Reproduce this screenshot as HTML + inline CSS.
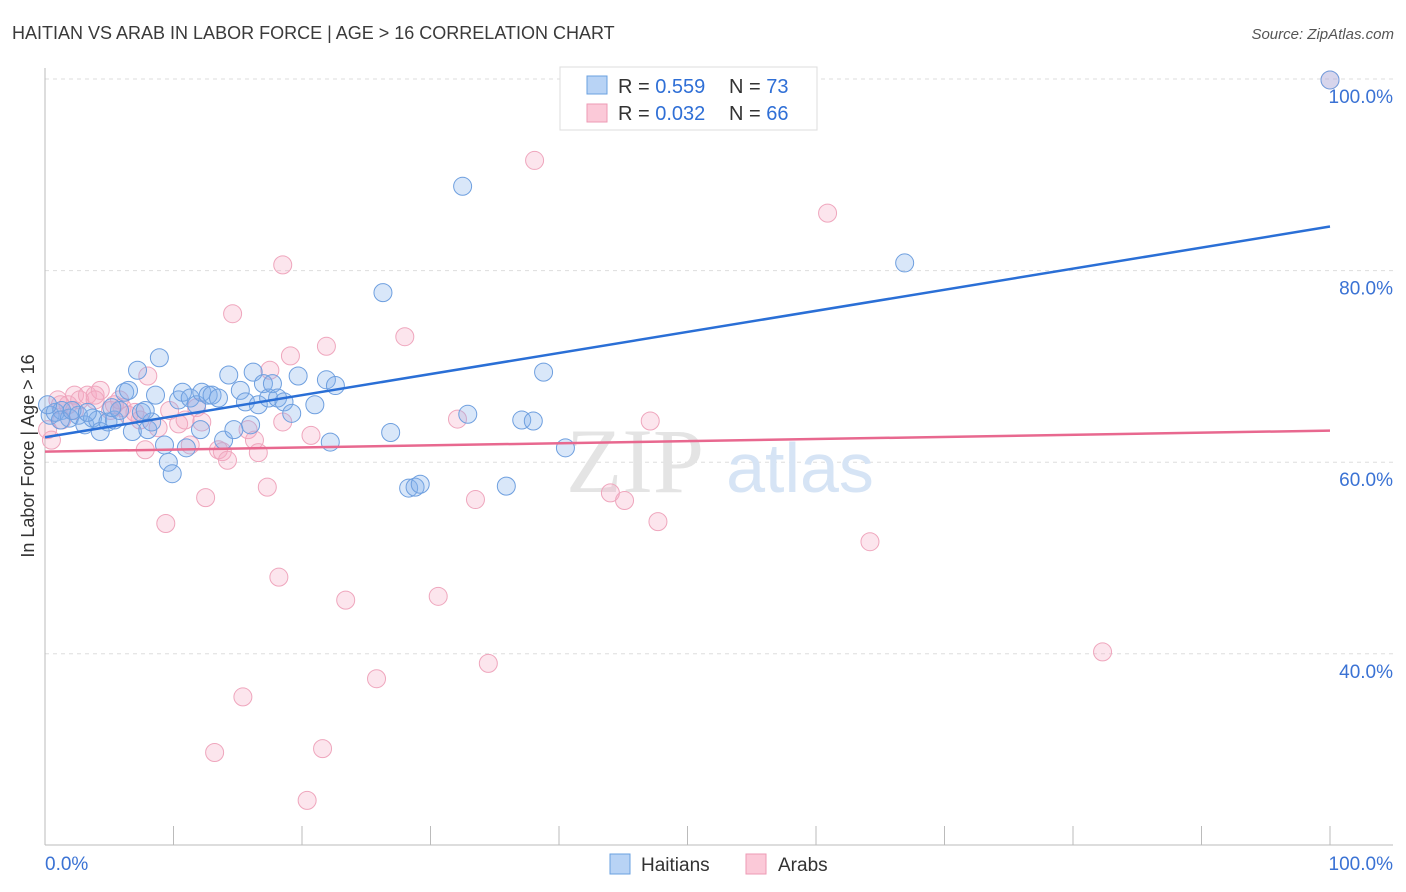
<!DOCTYPE html>
<html><head><meta charset="utf-8"><style>
body{margin:0;background:#fff;font-family:"Liberation Sans",sans-serif}
svg{display:block}
</style></head><body>
<svg id="c" width="1406" height="892" xmlns="http://www.w3.org/2000/svg">
<text x="12" y="39" font-size="18" fill="#3a3a3a">HAITIAN VS ARAB IN LABOR FORCE | AGE &gt; 16 CORRELATION CHART</text>
<text x="1394" y="39" font-size="15" fill="#555" font-style="italic" text-anchor="end">Source: ZipAtlas.com</text>
<text x="34" y="456" font-size="18" fill="#333" text-anchor="middle" transform="rotate(-90 34 456)">In Labor Force | Age &gt; 16</text>
<g id="grid"></g>
<text x="635" y="492" font-size="92" fill="#e4e4e4" font-family="Liberation Serif,serif" text-anchor="middle">ZIP</text>
<text x="800" y="492" font-size="70" fill="#d6e4f5" text-anchor="middle">atlas</text>
<g id="pts"></g>
<g id="lines"></g>
<g>
<rect x="560" y="67" width="257" height="63" fill="#fff" stroke="#ddd"/>
<rect x="587" y="76" width="20" height="18" fill="#b8d3f5" stroke="#6aa0e0"/>
<text x="618" y="93" font-size="20" fill="#333">R = <tspan fill="#2f6fd6">0.559</tspan></text>
<text x="729" y="93" font-size="20" fill="#333">N = <tspan fill="#2f6fd6">73</tspan></text>
<rect x="587" y="104" width="20" height="18" fill="#fbc9d8" stroke="#ee9ab4"/>
<text x="618" y="120" font-size="20" fill="#333">R = <tspan fill="#2f6fd6">0.032</tspan></text>
<text x="729" y="120" font-size="20" fill="#333">N = <tspan fill="#2f6fd6">66</tspan></text>
</g>
<g>
<rect x="610" y="854" width="20" height="20" fill="#b8d3f5" stroke="#6aa0e0"/>
<text x="641" y="871" font-size="19" fill="#333">Haitians</text>
<rect x="746" y="854" width="20" height="20" fill="#fbc9d8" stroke="#ee9ab4"/>
<text x="778" y="871" font-size="19" fill="#333">Arabs</text>
</g>
</svg>
<script>
const blueX=[0.4,0.8,1.3,1.9,2.6,3.1,3.7,4.1,4.3,4.9,5.4,5.8,6.2,6.5,6.8,7.2,7.5,8.0,8.3,8.6,8.9,9.3,9.6,9.9,10.4,10.7,11.0,11.3,11.8,12.1,12.2,12.7,13.0,13.5,13.9,14.3,14.7,15.2,15.6,16.0,16.2,16.6,17.0,17.4,17.7,18.1,18.6,19.2,19.7,21.0,21.9,22.2,22.6,26.3,26.9,28.3,28.8,29.2,32.5,32.9,35.9,37.1,38.0,38.8,40.5,66.9,100,0.2,1.2,2.1,3.3,5.2,7.8];
const blueY=[64.9,65.2,65.4,64.6,64.9,63.9,64.6,64.4,63.2,64.2,64.4,65.4,67.3,67.5,63.2,69.6,65.2,63.4,64.2,67.0,70.9,61.8,60.0,58.8,66.5,67.3,61.5,66.7,66.0,63.4,67.3,67.0,67.0,66.7,62.3,69.1,63.4,67.5,66.3,63.9,69.4,66.0,68.2,66.7,68.2,66.7,66.3,65.1,69.0,66.0,68.6,62.1,68.0,77.7,63.1,57.3,57.4,57.7,88.8,65.0,57.5,64.4,64.3,69.4,61.5,80.8,99.9,66.0,64.4,65.4,65.2,65.7,65.4];
const pinkX=[0.2,0.5,1.0,1.3,1.8,2.3,2.7,3.3,3.9,4.3,5.1,5.4,6.0,6.5,7.0,7.8,8.0,8.8,9.4,9.7,10.4,10.9,11.3,11.8,12.2,12.5,13.5,13.8,14.2,14.6,15.8,16.3,16.6,17.3,17.5,18.2,18.5,18.5,19.1,20.4,20.7,21.6,21.9,23.4,25.8,28.0,30.6,32.1,33.5,34.5,38.1,44.0,45.1,47.1,47.7,60.9,64.2,82.3,15.4,13.2,100,1.2,2.3,3.9,5.8,7.4];
const pinkY=[63.4,62.3,66.5,64.4,66.0,67.0,66.5,67.0,67.0,67.5,65.4,66.0,65.7,64.9,65.2,61.3,69.0,63.6,53.6,65.4,64.0,64.4,61.8,65.7,64.2,56.3,61.3,61.1,60.2,75.5,63.4,62.3,61.0,57.4,69.6,48.0,80.6,64.2,71.1,24.7,62.8,30.1,72.1,45.6,37.4,73.1,46.0,64.5,56.1,39.0,91.5,56.8,56.0,64.3,53.8,86.0,51.7,40.2,35.5,29.7,99.9,66.0,65.4,66.5,66.5,64.4];
const yTicks=[100,80,60,40];
const yTickLabels=["100.0%","80.0%","60.0%","40.0%"];
const blueTrend=[62.6,84.6];
const pinkTrend=[61.1,63.3];
const NS="http://www.w3.org/2000/svg";
const X=v=>45+v*12.85, Y=v=>79+(100-v)*9.58;
function mk(t,a,p){const e=document.createElementNS(NS,t);for(const k in a)e.setAttribute(k,a[k]);p.appendChild(e);return e;}
const svg=document.getElementById('c'),grid=document.getElementById('grid'),pts=document.getElementById('pts'),lines=document.getElementById('lines');
yTicks.forEach((t,i)=>{
 const l=mk('line',{x1:45,x2:1393,y1:Y(t),y2:Y(t),stroke:'#ddd','stroke-dasharray':'4,4'},grid);
 
 
 const tx=mk('text',{x:1393,y:Y(t)+24,'font-size':19,fill:'#3a72d4','text-anchor':'end'},grid);
 tx.textContent=yTickLabels[i];
 
 
});
mk('line',{x1:45,x2:45,y1:68,y2:845,stroke:'#bbb'},grid);
mk('line',{x1:45,x2:1393,y1:845,y2:845,stroke:'#bbb'},grid);
for(let k=1;k<=10;k++){const t=mk('line',{x1:X(k*10),x2:X(k*10),y1:826,y2:845,stroke:'#bbb'},grid);}
[[0,'0.0%','start',45],[100,'100.0%','end',1393]].forEach(d=>{const t=mk('text',{x:d[3],y:870,'font-size':19,fill:'#3a72d4','text-anchor':d[2]},grid);t.textContent=d[1];});
function dots(xs,ys,fill,stroke,name){xs.forEach((x,i)=>{const c=mk('circle',{cx:X(x),cy:Y(ys[i]),r:9,fill:fill,stroke:stroke,'stroke-width':1},pts);});}
dots(pinkX,pinkY,'rgba(246,170,195,0.3)','#efa6bd','arab-point');
dots(blueX,blueY,'rgba(130,175,235,0.3)','#6e9fdf','haitian-point');
const b=mk('line',{x1:X(0),y1:Y(blueTrend[0]),x2:X(100),y2:Y(blueTrend[1]),stroke:'#2a6fd6','stroke-width':2.5},lines);

const p=mk('line',{x1:X(0),y1:Y(pinkTrend[0]),x2:X(100),y2:Y(pinkTrend[1]),stroke:'#e8688f','stroke-width':2.5},lines);

</script>
</body></html>
